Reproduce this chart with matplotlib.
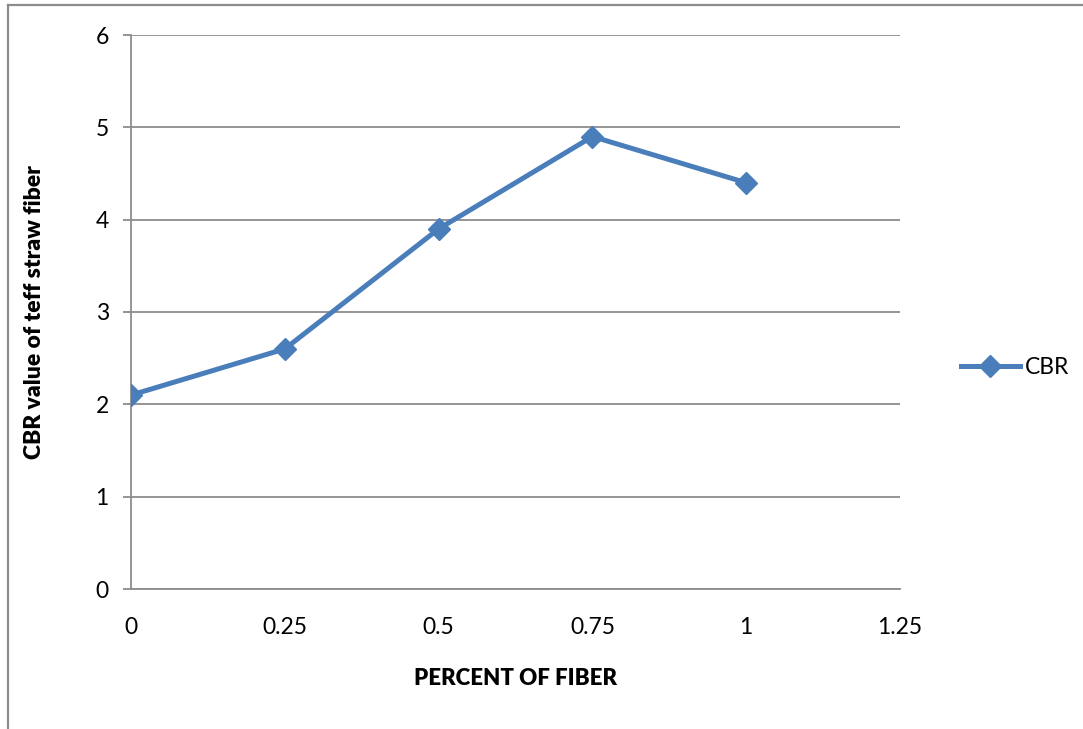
import matplotlib.pyplot as plt
from matplotlib.lines import Line2D

percent_fiber = [0, 0.25, 0.5, 0.75, 1]
cbr_values = [2.1, 2.6, 3.9, 4.9, 4.4]
x_ticks = [0, 0.25, 0.5, 0.75, 1, 1.25]
x_tick_labels = ["0", "0.25", "0.5", "0.75", "1", "1.25"]
y_ticks = [0, 1, 2, 3, 4, 5, 6]

plt.rcParams['font.family'] = ['Lato', 'DejaVu Sans']

W, H = 1083, 729
fig = plt.figure(figsize=(W / 100, H / 100), dpi=100)
ax = fig.add_axes([131 / W, 1 - 589 / H, (900 - 131) / W, (589 - 35) / H])

grey = '#8c8c8c'
blue = '#4a7ebb'

ax.plot(percent_fiber, cbr_values, color=blue, lw=3.6, marker='D', ms=11,
        markerfacecolor=blue, markeredgecolor=blue, label='CBR', zorder=3)

ax.set_xlim(0, 1.25)
ax.set_ylim(0, 6)
ax.set_xticks(x_ticks)
ax.set_xticklabels(x_tick_labels)
ax.set_yticks(y_ticks)
ax.yaxis.grid(True, color=grey, lw=1.3)
ax.set_axisbelow(True)

for s in ['top', 'right']:
    ax.spines[s].set_visible(False)
for s in ['left', 'bottom']:
    ax.spines[s].set_color(grey)
    ax.spines[s].set_linewidth(1.3)

ax.tick_params(axis='y', length=6, width=1.3, color=grey, labelsize=16.5, pad=10)
ax.tick_params(axis='x', length=0, labelsize=16.5, pad=20)

ax.set_xlabel('PERCENT OF FIBER', fontsize=16, fontweight='heavy', labelpad=22)
ax.set_ylabel('CBR value of teff straw fiber', fontsize=16.5, fontweight='heavy', labelpad=36)

fig.legend(loc='center left', bbox_to_anchor=(940 / W, 1 - 368 / H), frameon=False,
           fontsize=16.5, handlelength=2.6, handletextpad=0.2)

# outer chart border
bx, by = 8 / W, 1 - 5 / H
fig.add_artist(Line2D([bx, bx], [0, by], color=grey, lw=1.6, transform=fig.transFigure))
fig.add_artist(Line2D([bx, 1], [by, by], color=grey, lw=1.6, transform=fig.transFigure))

fig.savefig('out.png', dpi=100)
